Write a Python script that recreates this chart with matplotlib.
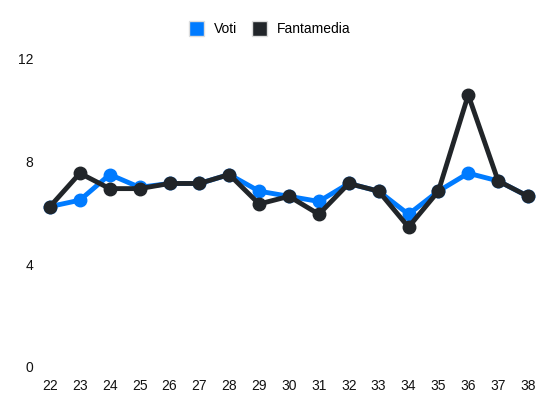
import matplotlib
matplotlib.use("Agg")
import matplotlib.pyplot as plt
from matplotlib.patches import Patch

giornate = [22, 23, 24, 25, 26, 27, 28, 29, 30, 31, 32, 33, 34, 35, 36, 37, 38]
voti = [6.25, 6.5, 7.5, 7.0, 7.15, 7.15, 7.5, 6.85, 6.65, 6.45, 7.15, 6.85, 5.95, 6.85, 7.55, 7.25, 6.65]
fantamedia = [6.25, 7.55, 6.95, 6.95, 7.15, 7.15, 7.5, 6.35, 6.65, 5.95, 7.15, 6.85, 5.45, 6.85, 10.6, 7.25, 6.65]
yticks = [0, 4, 8, 12]

BLUE = "#007bff"
DARK = "#212529"

plt.rcParams['font.family'] = ['Liberation Sans', 'DejaVu Sans']

fig = plt.figure(figsize=(5.5, 4.12), dpi=100)
ax = fig.add_axes([50/550, (412-367)/412, (528-50)/550, (367-59)/412])

ax.plot(giornate, voti, color=BLUE, lw=3.5, marker='o', ms=9, clip_on=False, zorder=3)
ax.plot(giornate, fantamedia, color=DARK, lw=3.5, marker='o', ms=9, clip_on=False, zorder=4)

ax.set_xlim(22, 38)
ax.set_ylim(0, 12)
ax.set_xticks(giornate)
ax.set_xticklabels([str(g) for g in giornate])
ax.set_yticks(yticks)
ax.set_yticklabels([str(t) for t in yticks])
for s in ax.spines.values():
    s.set_visible(False)
ax.tick_params(axis='both', length=0, labelsize=10, colors='#111111')
ax.tick_params(axis='x', pad=9)
ax.tick_params(axis='y', pad=12)

handles = [Patch(facecolor=BLUE, edgecolor='#dddddd', label='Voti'),
           Patch(facecolor=DARK, edgecolor='#dddddd', label='Fantamedia')]
fig.legend(handles=handles, loc='center', bbox_to_anchor=(0.5 - 5/550, 1 - 28.5/412), ncol=2,
           frameon=False, fontsize=10, handlelength=1.05, handleheight=1.3,
           handletextpad=0.72, columnspacing=1.1, borderpad=0)

fig.savefig("out.png", dpi=100)
